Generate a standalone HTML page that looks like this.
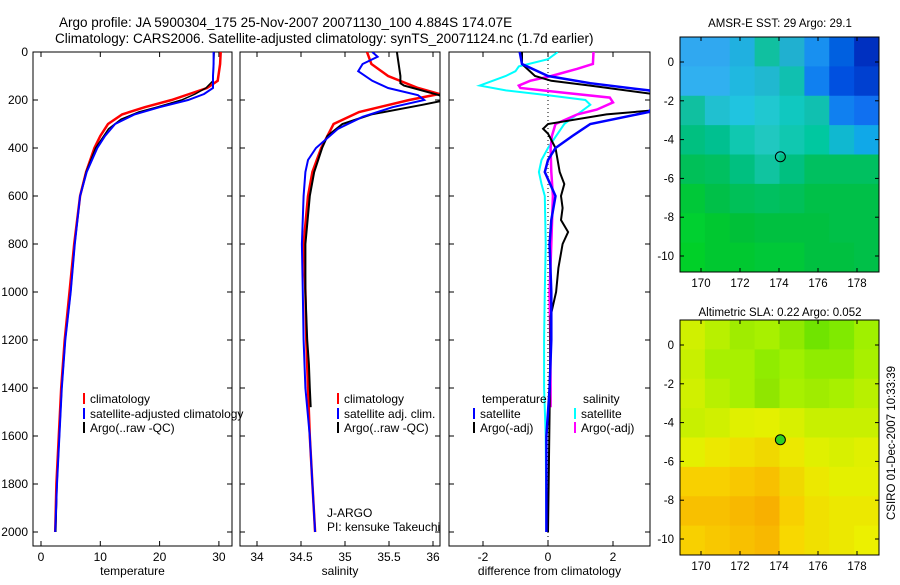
<!DOCTYPE html>
<html><head><meta charset="utf-8"><style>
body{margin:0;background:#fff}
svg text{font-family:"Liberation Sans",sans-serif;fill:#000}
</style></head><body>
<svg id="s" width="900" height="580" viewBox="0 0 900 580" xmlns="http://www.w3.org/2000/svg">
<text x="59" y="27" font-size="13.5">Argo profile: JA 5900304_175 25-Nov-2007 20071130_100 4.884S 174.07E</text>
<text x="55" y="43" font-size="13.5">Climatology: CARS2006. Satellite-adjusted climatology: synTS_20071124.nc (1.7d earlier)</text>
<text x="780" y="27" font-size="11.5" text-anchor="middle">AMSR-E SST: 29 Argo: 29.1</text>
<text x="780" y="316" font-size="11.5" text-anchor="middle">Altimetric SLA: 0.22 Argo: 0.052</text>
<text x="0" y="0" font-size="11.5" text-anchor="middle" transform="translate(895,443) rotate(-90)">CSIRO 01-Dec-2007 10:33:39</text>
<g id="g"></g>
</svg>
<script>
// ---- data ----
const depthTicks=[0,200,400,600,800,1000,1200,1400,1600,1800,2000];
const tempTicks=[0,10,20,30];
const salTicks=[34,34.5,35,35.5,36];
const salTickLabels=["34","34.5","35","35.5","36"];
const diffTicks=[-2,0,2];
const lonTicks=[170,172,174,176,178];
const latTicks=[0,-2,-4,-6,-8,-10];
const floatLon=174.07, floatLat=-4.884;

const tClimD=[0,50,120,150,175,200,230,260,300,350,400,500,600,800,1000,1200,1400,1600,1800,2000];
const tClimV=[30.3,30.2,29.8,28,25,22,17.5,13.7,11.3,10,9,7.6,6.6,5.6,4.8,4.0,3.4,3.0,2.6,2.4];
const tSatD=[0,50,100,150,175,200,230,260,300,350,400,500,600,800,1000,1200,1400,1600,1800,2000];
const tSatV=[29.1,29.1,29.0,29.0,27.5,24.8,20,15.8,12.5,10.8,9.5,7.7,6.6,5.7,5.0,4.1,3.5,3.1,2.7,2.4];
const tArgoD=[0,50,120,150,175,200,230,250,280,320,400,500,600,800,1000,1200,1400,1600,1800,2000];
const tArgoV=[29.2,29.1,29.0,27.8,26,23.7,19.5,16.5,13.5,11.4,9.2,7.6,6.6,5.7,5.0,4.1,3.5,3.1,2.7,2.5];

const sClimD=[0,50,100,150,175,200,250,300,400,500,600,800,1000,1200,1400,1600,1800,2000];
const sClimV=[35.25,35.3,35.49,35.83,36.07,35.73,35.16,34.87,34.73,34.63,34.58,34.53,34.55,34.56,34.58,34.6,34.63,34.66];
const sSatD=[0,20,50,80,120,150,180,200,230,270,320,400,450,500,600,800,1000,1200,1400,1600,1800,2000];
const sSatV=[35.31,35.37,35.2,35.15,35.31,35.49,35.83,35.9,35.54,35.2,34.92,34.67,34.58,34.55,34.53,34.51,34.52,34.53,34.55,34.6,34.63,34.66];
const sArgoD=[0,100,130,140,180,200,220,260,300,350,400,500,600,800,1000,1200,1300,1400,1480];
const sArgoV=[35.59,35.63,35.63,35.67,36.07,36.15,35.88,35.3,34.97,34.8,34.74,34.65,34.6,34.55,34.55,34.57,34.59,34.6,34.61];

const dTSatD=[0,50,100,130,160,180,250,300,350,400,450,500,600,700,800,1000,1200,1400,1600,2000];
const dTSatV=[-0.87,-0.8,0,1.3,3.1,3.5,3.1,1.3,0.75,0.23,0,-0.1,0.23,0.1,0.05,0.1,0.1,0.05,-0.05,-0.05];
const dTArgoD=[0,50,100,120,140,180,240,260,300,320,340,400,500,550,600,650,700,750,800,900,1000,1100,1500,2000];
const dTArgoV=[-0.8,-0.8,-0.4,0.1,1.3,3.5,3.5,1.8,0,-0.15,0,0.23,0.36,0.5,0.4,0.45,0.4,0.62,0.45,0.32,0.25,0.08,0.05,0];
const dSSatD=[0,30,60,80,100,140,160,180,200,220,250,300,350,400,450,500,550,600,800,1000,1200,1400,1600,2000];
const dSSatV=[0.3,0,-0.9,-1.0,-1.3,-2.1,-1.3,0,1.15,1.3,1.0,0.5,0.25,0,-0.2,-0.28,-0.2,-0.1,-0.07,-0.1,-0.12,-0.12,-0.07,-0.05];
const dSArgoD=[0,50,70,100,120,140,150,170,190,210,240,260,300,350,400,500,600,800,1000,1200,1400,1480];
const dSArgoV=[1.4,1.38,0.9,0.1,-0.55,-0.9,-0.85,0.5,1.9,2.0,1.5,0.9,0.23,0.12,0.08,0.1,0.15,0.1,0.05,0.07,0.08,0.08];

const sstGrid=[
["#30a8f0","#30a8f0","#20b0e0","#10c0a0","#20b0d0","#1890f0","#0060e0","#0030c0"],
["#30b0f0","#30b0f0","#20b8e0","#20b8d0","#10c0b0","#1080f0","#0050e0","#0040d0"],
["#10c0a0","#20c0d0","#20c4e0","#20c8d0","#10c8c0","#10c0b0","#1080f0","#1070f0"],
["#00c080","#00c090","#10c8b0","#20c8c0","#10c8b0","#00c8a0","#10b8d0","#10a8e8"],
["#00c058","#00c060","#00c080","#10c4a0","#00c080","#00c060","#00c060","#00c060"],
["#00c838","#00c048","#00c058","#00c060","#00c058","#00c048","#00c048","#00c048"],
["#00d030","#00c830","#00c038","#00c040","#00c040","#00c040","#00c048","#00c048"],
["#00d028","#00c830","#00c830","#00c838","#00c838","#00c040","#00c040","#00c048"]];
const slaGrid=[
["#d0f000","#b8f000","#a0ec00","#a8f000","#90ea00","#70e400","#80ea00","#a0f000"],
["#c8f000","#a8f000","#a8f000","#90ec00","#a0f000","#90ec00","#90ec00","#a8f000"],
["#d0f000","#b8f000","#a8f000","#90e600","#a8f000","#a0ec00","#a8f000","#b8f000"],
["#c8f000","#d0f000","#e0f000","#e4f000","#d8f000","#c8f000","#c8f000","#c8f000"],
["#e4f000","#ece800","#f0e000","#f0d800","#ece800","#e0f000","#d8f000","#e0f000"],
["#f8d000","#f8d000","#f8c800","#f8c000","#f0d800","#ece800","#e4f000","#e4f000"],
["#f8c000","#f8c000","#f8b800","#f8b000","#f8d000","#f0e000","#ece800","#ece800"],
["#f8d000","#f8c800","#f8c000","#f8b800","#f8d800","#f0e000","#ece800","#ecf000"]];

// ---- drawing ----
const NS="http://www.w3.org/2000/svg";
const G=document.getElementById('g');
function mk(t,a,p){const e=document.createElementNS(NS,t);for(const k in a)e.setAttribute(k,a[k]);(p||G).appendChild(e);return e;}
const yD=d=>52+d*0.24;
const TOP=52,BOT=546;
const panels=[
 {name:'temperature',x0:33,x1:232,f:v=>41+5.93*v,ticks:tempTicks,labels:tempTicks.map(String),title:'temperature'},
 {name:'salinity',x0:240,x1:440,f:v=>257+88*(v-34),ticks:salTicks,labels:salTickLabels,title:'salinity'},
 {name:'difference',x0:449,x1:650,f:v=>548+32.5*v,ticks:diffTicks,labels:diffTicks.map(String),title:'difference from climatology'}];
panels.forEach((p,i)=>{
 const cp=mk('clipPath',{id:'c'+i});mk('rect',{x:p.x0,y:TOP,width:p.x1-p.x0,height:BOT-TOP},cp);
 const fr=mk('rect',{x:p.x0,y:TOP,width:p.x1-p.x0,height:BOT-TOP,fill:'none',stroke:'#000','stroke-width':1});
 
 
 p.ticks.forEach((t,j)=>{const x=p.f(t);
  mk('line',{x1:x,x2:x,y1:BOT,y2:BOT-5,stroke:'#000'});mk('line',{x1:x,x2:x,y1:TOP,y2:TOP+5,stroke:'#000'});
  const tx=mk('text',{x:x,y:BOT+15,'font-size':12,'text-anchor':'middle'});tx.textContent=p.labels[j];
  
  });
 depthTicks.forEach(d=>{const y=yD(d);
  mk('line',{x1:p.x0,x2:p.x0+5,y1:y,y2:y,stroke:'#000'});mk('line',{x1:p.x1,x2:p.x1-5,y1:y,y2:y,stroke:'#000'});});
 const tt=mk('text',{x:(p.x0+p.x1)/2,y:575,'font-size':12,'text-anchor':'middle'});tt.textContent=p.title;
 
 
});
depthTicks.forEach(d=>{const t=mk('text',{x:28,y:yD(d)+4,'font-size':12,'text-anchor':'end'});t.textContent=d;
 
 });
mk('line',{x1:548,x2:548,y1:TOP,y2:BOT,stroke:'#000','stroke-dasharray':'1,3'});
function line(pi,D,V,col,w,name){const p=panels[pi];
 const pts=D.map((d,k)=>p.f(V[k]).toFixed(1)+','+yD(d).toFixed(1)).join(' ');
 const e=mk('polyline',{points:pts,fill:'none',stroke:col,'stroke-width':w,'clip-path':'url(#c'+pi+')'});
 
 }
line(0,tClimD,tClimV,'#f00',2.5,'temp-climatology-line');
line(0,tArgoD,tArgoV,'#000',1.5,'temp-argo-line');
line(0,tSatD,tSatV,'#00f',2,'temp-satellite-line');
line(1,sClimD,sClimV,'#f00',2.5,'sal-climatology-line');
line(1,sArgoD,sArgoV,'#000',2,'sal-argo-line');
line(1,sSatD,sSatV,'#00f',2,'sal-satellite-line');
line(2,dSSatD,dSSatV,'#0ff',2,'diff-sal-satellite-line');
line(2,dSArgoD,dSArgoV,'#f0f',2.5,'diff-sal-argo-line');
line(2,dTArgoD,dTArgoV,'#000',2,'diff-temp-argo-line');
line(2,dTSatD,dTSatV,'#00f',2.5,'diff-temp-satellite-line');
function leg(x,y,col,txt,name){ if(col){const b=mk('line',{x1:x,x2:x,y1:y-10,y2:y+1,stroke:col,'stroke-width':2});}
 const t=mk('text',{x:x+6,y:y,'font-size':12});t.textContent=txt;
 
 }
leg(84,403,'#f00','climatology','legend-climatology');
leg(84,418,'#00f','satellite-adjusted climatology','legend-satellite');
leg(84,432,'#000','Argo(..raw -QC)','legend-argo');
leg(338,403,'#f00','climatology','legend2-climatology');
leg(338,418,'#00f','satellite adj. clim.','legend2-satellite');
leg(338,432,'#000','Argo(..raw -QC)','legend2-argo');
leg(476,403,null,'temperature','legend3-temperature-header');
leg(474,418,'#00f','satellite','legend3-temp-satellite');
leg(474,432,'#000','Argo(-adj)','legend3-temp-argo');
leg(577,403,null,'salinity','legend3-salinity-header');
leg(575,418,'#0ff','satellite','legend3-sal-satellite');
leg(575,432,'#f0f','Argo(-adj)','legend3-sal-argo');
leg(321,517,null,'J-ARGO','agency-label');
leg(321,531,null,'PI: kensuke Takeuchi','pi-label');
// maps
const lonX=l=>701+(l-170)*19.5;
function drawMap(grid,top,name,fill){
 const L=680,R=879,T=top,B=top+235;
 const rows=grid.length,cols=grid[0].length,cw=(R-L)/cols,ch=(B-T)/rows;
 const latY=la=>T+25+(-la)*19.4;
 grid.forEach((row,r)=>row.forEach((c,k)=>{const e=mk('rect',{x:L+k*cw,y:T+r*ch,width:cw+0.5,height:ch+0.5,fill:c});
  
  }));
 const f=mk('rect',{x:L,y:T,width:R-L,height:B-T,fill:'none',stroke:'#000'});
 
 
 lonTicks.forEach(l=>{const x=lonX(l);mk('line',{x1:x,x2:x,y1:B,y2:B-4,stroke:'#000'});mk('line',{x1:x,x2:x,y1:T,y2:T+4,stroke:'#000'});
  const t=mk('text',{x:x,y:B+15,'font-size':11.5,'text-anchor':'middle'});t.textContent=l;
  
  });
 latTicks.forEach(la=>{const y=latY(la);mk('line',{x1:L,x2:L+4,y1:y,y2:y,stroke:'#000'});mk('line',{x1:R,x2:R-4,y1:y,y2:y,stroke:'#000'});
  const t=mk('text',{x:L-6,y:y+4,'font-size':11.5,'text-anchor':'end'});t.textContent=la;
  
  });
 const c=mk('circle',{cx:lonX(floatLon),cy:latY(floatLat),r:5,fill:fill,stroke:'#000'});
 
 
}
drawMap(sstGrid,37,'sst-map','none');
drawMap(slaGrid,320,'sla-map','#30d020');
</script>
</body></html>
